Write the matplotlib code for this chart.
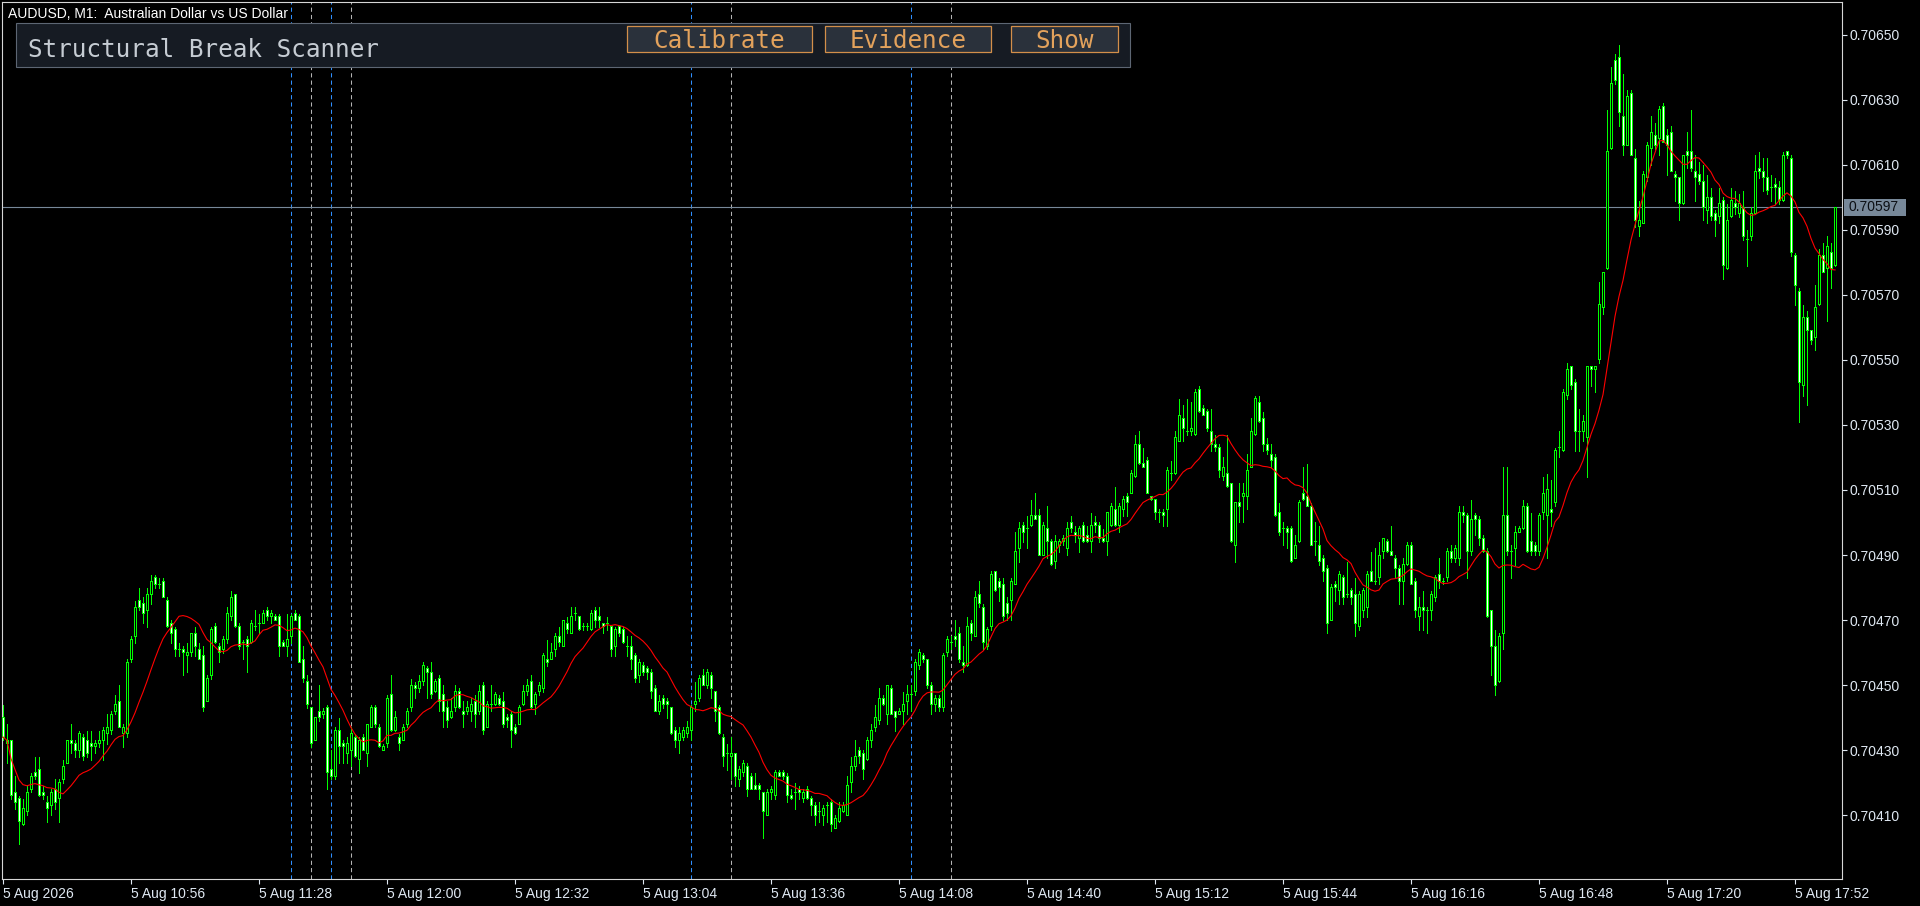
import numpy as np
import pandas as pd
import matplotlib
matplotlib.use('Agg')
import matplotlib.pyplot as plt
from matplotlib.patches import Rectangle

# AUDUSD M1 bars, prices in points above 0.70000
BASE = 0.70000

opens = [
    440, 433, 433, 417, 415, 407, 411, 418, 423, 424,
    417, 414, 413, 418, 415, 421, 426, 433, 432, 430,
    434, 433, 432, 431, 432, 433, 435, 436, 442, 445,
    435, 435, 458, 465, 476, 475, 473, 478, 483, 481,
    482, 476, 469, 467, 461, 461, 459, 460, 466, 461,
    459, 445, 453, 468, 462, 461, 464, 471, 478, 468,
    463, 464, 463, 468, 469, 469, 473, 471, 471, 471,
    463, 462, 465, 472, 471, 458, 451, 443, 433, 442,
    441, 443, 424, 422, 436, 432, 429, 430, 434, 427,
    434, 429, 437, 443, 437, 430, 432, 447, 436, 434,
    433, 438, 443, 450, 449, 451, 455, 454, 448, 452,
    447, 443, 440, 443, 448, 442, 442, 442, 445, 442,
    450, 437, 444, 444, 446, 445, 440, 441, 437, 438,
    444, 448, 451, 444, 448, 449, 458, 458, 461, 465,
    462, 469, 466, 472, 471, 468, 468, 467, 473, 471,
    469, 469, 468, 462, 468, 467, 462, 462, 459, 453,
    456, 455, 454, 449, 442, 446, 445, 443, 436, 433,
    434, 435, 436, 444, 446, 453, 450, 453, 448, 443,
    434, 429, 428, 429, 421, 423, 425, 422, 419, 419,
    417, 410, 417, 416, 423, 423, 422, 416, 417, 418,
    415, 418, 415, 413, 411, 410, 413, 414, 406, 408,
    411, 410, 420, 425, 430, 429, 427, 433, 437, 439,
    446, 441, 449, 442, 441, 442, 445, 447, 448, 456,
    459, 458, 450, 444, 446, 443, 460, 463, 465, 466,
    457, 456, 469, 465, 478, 474, 462, 468, 485, 482,
    481, 475, 476, 481, 492, 499, 498, 499, 502, 502,
    490, 498, 494, 488, 493, 494, 492, 500, 497, 495,
    499, 496, 494, 500, 499, 495, 494, 499, 504, 499,
    504, 508, 509, 514, 524, 518, 519, 508, 507, 503,
    503, 504, 515, 515, 525, 532, 528, 528, 527, 541,
    535, 534, 528, 524, 523, 514, 515, 512, 493, 506,
    508, 508, 517, 527, 537, 532, 524, 521, 520, 503,
    498, 498, 498, 489, 494, 509, 508, 505, 494, 493,
    489, 486, 470, 481, 479, 483, 478, 479, 478, 468,
    473, 474, 485, 482, 483, 491, 494, 491, 489, 486,
    482, 487, 493, 482, 471, 474, 473, 473, 477, 484,
    482, 483, 491, 489, 489, 503, 502, 491, 502, 501,
    495, 491, 473, 462, 451, 466, 502, 491, 492, 497,
    498, 505, 494, 493, 491, 503, 502, 504, 506, 523,
    522, 539, 548, 543, 528, 528, 526, 548, 547, 550,
    566, 578, 615, 642, 643, 625, 616, 632, 612, 591,
    592, 606, 615, 619, 618, 628, 619, 620, 607, 606,
    598, 614, 614, 608, 607, 605, 596, 600, 595, 594,
    599, 578, 594, 598, 595, 597, 587, 588, 595, 609,
    608, 606, 603, 604, 603, 599, 614, 612, 582, 571,
    542, 563, 559, 557, 567, 582, 578, 583, 579,
]

highs = [
    444, 438, 433, 422, 416, 415, 419, 423, 428, 428,
    419, 416, 418, 421, 421, 427, 433, 438, 433, 436,
    435, 436, 436, 433, 436, 437, 441, 442, 447, 450,
    438, 458, 465, 476, 480, 477, 480, 484, 484, 483,
    483, 477, 470, 468, 463, 462, 463, 466, 468, 463,
    462, 453, 468, 469, 463, 465, 474, 479, 478, 469,
    464, 465, 470, 473, 472, 473, 474, 473, 472, 472,
    464, 472, 472, 473, 472, 462, 453, 443, 440, 450,
    443, 444, 430, 437, 440, 433, 434, 437, 435, 434,
    435, 438, 444, 444, 438, 432, 447, 453, 442, 435,
    438, 443, 452, 451, 453, 457, 456, 457, 452, 453,
    450, 445, 446, 450, 449, 445, 445, 446, 447, 450,
    451, 445, 450, 448, 447, 448, 441, 442, 438, 444,
    450, 452, 453, 448, 451, 460, 464, 463, 466, 468,
    470, 471, 474, 474, 471, 469, 469, 473, 474, 474,
    469, 471, 468, 468, 468, 468, 465, 465, 460, 458,
    457, 456, 455, 450, 447, 447, 446, 443, 437, 437,
    437, 439, 444, 451, 453, 455, 455, 454, 448, 444,
    435, 432, 434, 429, 425, 427, 426, 423, 423, 420,
    417, 418, 419, 424, 424, 424, 423, 418, 420, 419,
    418, 419, 416, 414, 414, 413, 414, 415, 410, 414,
    414, 422, 428, 433, 431, 430, 434, 438, 444, 449,
    447, 450, 450, 442, 443, 448, 450, 450, 458, 461,
    460, 458, 451, 447, 447, 460, 465, 465, 470, 468,
    462, 471, 470, 479, 482, 475, 468, 485, 485, 483,
    483, 477, 483, 497, 500, 500, 502, 507, 509, 504,
    500, 505, 495, 496, 495, 496, 500, 502, 499, 499,
    500, 499, 503, 502, 500, 498, 503, 506, 511, 506,
    508, 509, 516, 527, 528, 523, 520, 508, 507, 504,
    504, 517, 519, 528, 538, 536, 538, 537, 541, 542,
    536, 535, 535, 527, 524, 520, 527, 512, 506, 512,
    512, 521, 532, 539, 539, 534, 526, 524, 521, 506,
    500, 499, 499, 496, 507, 517, 518, 506, 500, 499,
    490, 487, 481, 482, 485, 484, 488, 480, 483, 479,
    480, 485, 491, 492, 494, 495, 495, 499, 490, 487,
    489, 494, 494, 483, 477, 479, 474, 479, 484, 489,
    483, 492, 493, 493, 505, 505, 503, 507, 503, 502,
    496, 492, 473, 467, 466, 517, 517, 493, 499, 499,
    507, 506, 503, 494, 503, 514, 515, 513, 523, 528,
    541, 549, 548, 544, 535, 533, 548, 548, 548, 574,
    577, 627, 640, 644, 647, 638, 633, 633, 615, 599,
    608, 617, 625, 623, 628, 629, 621, 622, 608, 606,
    613, 620, 627, 613, 611, 610, 607, 603, 596, 603,
    600, 598, 603, 602, 601, 602, 590, 597, 613, 614,
    612, 612, 607, 606, 605, 614, 614, 613, 583, 572,
    567, 565, 559, 573, 584, 586, 588, 586, 597,
]

lows = [
    433, 426, 415, 412, 401, 407, 410, 417, 421, 416,
    415, 408, 410, 412, 408, 420, 426, 429, 428, 428,
    427, 428, 427, 429, 431, 427, 432, 435, 441, 437,
    431, 434, 457, 463, 473, 469, 468, 475, 480, 480,
    477, 468, 463, 459, 459, 453, 454, 459, 459, 458,
    442, 445, 452, 463, 457, 460, 463, 470, 468, 461,
    458, 454, 463, 467, 466, 469, 470, 469, 470, 459,
    462, 459, 463, 470, 457, 451, 443, 431, 433, 439,
    440, 418, 421, 421, 426, 426, 426, 425, 428, 423,
    430, 425, 437, 437, 431, 430, 431, 436, 436, 430,
    433, 437, 442, 446, 448, 450, 446, 446, 448, 442,
    437, 437, 440, 442, 443, 437, 441, 439, 437, 441,
    435, 437, 442, 444, 444, 437, 437, 431, 435, 438,
    444, 447, 443, 441, 447, 448, 456, 458, 459, 462,
    462, 466, 466, 470, 467, 467, 467, 467, 468, 468,
    466, 467, 459, 459, 465, 463, 459, 455, 451, 451,
    453, 452, 446, 442, 441, 443, 440, 435, 431, 429,
    433, 434, 433, 442, 445, 450, 449, 446, 439, 435,
    425, 424, 421, 419, 419, 422, 416, 418, 418, 415,
    403, 410, 415, 415, 422, 421, 414, 415, 412, 415,
    414, 415, 410, 407, 408, 407, 408, 405, 406, 408,
    411, 410, 417, 424, 426, 421, 427, 431, 436, 438,
    444, 438, 441, 436, 441, 438, 441, 442, 447, 455,
    457, 449, 441, 442, 442, 442, 459, 461, 462, 457,
    454, 456, 464, 465, 474, 461, 461, 467, 479, 476,
    470, 470, 470, 481, 488, 494, 492, 499, 501, 490,
    490, 489, 487, 486, 491, 493, 490, 497, 494, 491,
    494, 494, 491, 497, 494, 494, 490, 499, 499, 497,
    502, 502, 509, 514, 518, 517, 509, 507, 501, 500,
    499, 499, 513, 515, 525, 525, 527, 527, 527, 534,
    533, 528, 522, 522, 514, 513, 511, 494, 488, 500,
    500, 504, 517, 527, 531, 522, 521, 517, 502, 496,
    493, 492, 488, 489, 494, 507, 505, 493, 490, 487,
    482, 466, 470, 476, 475, 475, 477, 475, 465, 467,
    471, 471, 482, 481, 481, 489, 491, 490, 483, 475,
    475, 487, 481, 471, 467, 467, 466, 470, 476, 480,
    481, 482, 488, 488, 487, 500, 483, 490, 496, 493,
    491, 471, 453, 447, 451, 461, 490, 483, 487, 497,
    498, 491, 490, 490, 490, 501, 489, 499, 505, 520,
    522, 538, 541, 522, 522, 525, 514, 542, 540, 549,
    564, 578, 615, 635, 622, 613, 616, 613, 591, 588,
    592, 605, 610, 615, 613, 617, 607, 608, 599, 593,
    598, 609, 608, 599, 604, 593, 592, 593, 588, 592,
    575, 578, 594, 595, 594, 587, 579, 587, 595, 606,
    602, 601, 599, 598, 598, 599, 612, 582, 567, 531,
    539, 536, 555, 553, 567, 577, 562, 572, 579,
]

closes = [
    434, 432, 416, 414, 408, 412, 417, 422, 422, 416,
    416, 412, 417, 414, 420, 425, 433, 432, 430, 435,
    428, 429, 431, 432, 433, 436, 437, 441, 444, 437,
    437, 457, 464, 474, 474, 472, 478, 482, 481, 481,
    477, 468, 466, 461, 461, 460, 460, 466, 462, 458,
    443, 452, 467, 463, 460, 464, 472, 477, 468, 462,
    463, 462, 469, 468, 469, 472, 471, 472, 470, 462,
    462, 464, 471, 470, 457, 452, 444, 432, 440, 440,
    442, 423, 422, 436, 431, 431, 432, 435, 428, 433,
    430, 438, 443, 438, 431, 431, 446, 436, 440, 432,
    437, 442, 450, 449, 451, 456, 454, 447, 451, 445,
    442, 439, 442, 448, 443, 441, 443, 444, 441, 448,
    436, 444, 444, 447, 444, 438, 439, 436, 435, 443,
    448, 450, 443, 447, 450, 459, 457, 460, 465, 463,
    470, 467, 471, 472, 467, 468, 468, 472, 470, 470,
    468, 469, 461, 467, 466, 463, 462, 458, 452, 457,
    454, 454, 448, 442, 445, 444, 444, 435, 433, 435,
    436, 437, 443, 445, 452, 450, 454, 449, 442, 435,
    428, 429, 429, 422, 424, 426, 418, 418, 418, 418,
    411, 417, 418, 423, 422, 422, 416, 415, 417, 417,
    417, 415, 413, 410, 411, 412, 413, 407, 409, 412,
    413, 419, 425, 428, 428, 424, 433, 436, 440, 446,
    444, 450, 441, 440, 442, 444, 447, 447, 457, 460,
    458, 450, 444, 446, 443, 459, 464, 463, 464, 458,
    456, 468, 466, 477, 475, 463, 467, 484, 479, 480,
    471, 472, 482, 491, 498, 497, 498, 502, 501, 490,
    499, 494, 487, 494, 494, 495, 498, 498, 496, 498,
    494, 494, 499, 499, 495, 494, 503, 505, 499, 505,
    507, 506, 515, 524, 518, 517, 509, 507, 503, 503,
    502, 516, 515, 526, 533, 529, 528, 529, 540, 534,
    533, 529, 524, 523, 516, 517, 511, 494, 506, 505,
    509, 516, 528, 538, 531, 524, 522, 519, 502, 497,
    498, 497, 488, 493, 506, 507, 505, 493, 494, 488,
    485, 469, 480, 480, 484, 477, 478, 477, 469, 478,
    479, 484, 482, 482, 490, 495, 491, 490, 486, 482,
    487, 493, 481, 473, 474, 473, 473, 478, 483, 482,
    482, 491, 489, 492, 503, 502, 491, 501, 501, 495,
    491, 471, 462, 450, 465, 502, 491, 491, 497, 498,
    505, 491, 491, 491, 502, 509, 510, 503, 522, 523,
    540, 547, 542, 528, 528, 531, 548, 547, 548, 567,
    577, 614, 635, 636, 626, 616, 631, 613, 593, 593,
    607, 616, 620, 616, 627, 617, 616, 608, 606, 598,
    613, 613, 609, 606, 605, 597, 600, 594, 593, 598,
    579, 593, 599, 597, 598, 588, 587, 595, 608, 608,
    606, 602, 603, 603, 599, 613, 613, 583, 573, 543,
    563, 559, 556, 566, 582, 577, 585, 578, 597,
]

ma_period = 14

time_ticks = [0, 32, 64, 96, 128, 160, 192, 224, 256, 288, 320, 352, 384, 416, 448]
time_labels = ['5 Aug 2026', '5 Aug 10:56', '5 Aug 11:28', '5 Aug 12:00', '5 Aug 12:32',
               '5 Aug 13:04', '5 Aug 13:36', '5 Aug 14:08', '5 Aug 14:40', '5 Aug 15:12',
               '5 Aug 15:44', '5 Aug 16:16', '5 Aug 16:48', '5 Aug 17:20', '5 Aug 17:52']
price_ticks = [0.70410, 0.70430, 0.70450, 0.70470, 0.70490, 0.70510, 0.70530,
               0.70550, 0.70570, 0.70590, 0.70610, 0.70630, 0.70650]

break_lines_blue = [72, 82, 172, 227]
break_lines_gray = [77, 87, 182, 237]

buttons = ['Calibrate', 'Evidence', 'Show']

W, H = 1920, 906
LIME = '#00ff00'
AX_COL = '#dfe8f2'
FONT = ['Liberation Sans', 'DejaVu Sans']
MONO = ['DejaVu Sans Mono']

o = BASE + np.array(opens) / 1e5
h = BASE + np.array(highs) / 1e5
l = BASE + np.array(lows) / 1e5
c = BASE + np.array(closes) / 1e5
h = np.maximum(h, np.maximum(o, c))
l = np.minimum(l, np.minimum(o, c))
x = np.arange(len(c))
ma = pd.Series(c).rolling(ma_period, min_periods=1).mean()

fig = plt.figure(figsize=(W / 100, H / 100), dpi=100, facecolor='black')
ax = fig.add_axes([2 / W, (H - 879) / H, 1840 / W, 877 / H])
ax.set_facecolor('black')

ymin, ymax = 0.7039031, 0.7066015
ypx = (ymax - ymin) / 877      # one pixel in price units
xpx = 0.25                     # one pixel in bar units

# vertical break markers
for i in break_lines_blue:
    ax.axvline(i, color='#2f8fff', lw=0.75, ls=(0, (4, 3)), zorder=1)
for i in break_lines_gray:
    ax.axvline(i, color='#b4b4b4', lw=0.75, ls=(0, (4, 3)), zorder=1)

# candles: wick, green outer body, white/black inner fill
ax.vlines(x, l, h, colors=LIME, lw=0.72, zorder=2, antialiased=False)
top = np.maximum(o, c)
bot = np.minimum(o, c)
ax.bar(x, top - bot + ypx, bottom=bot - ypx / 2, width=3 * xpx, color=LIME,
       linewidth=0, zorder=3, antialiased=False)
inner = np.maximum(top - bot - ypx, 0)
face = np.where(c > o, 'black', 'white')
ax.bar(x, inner, bottom=bot + ypx / 2, width=1 * xpx, color=face,
       linewidth=0, zorder=4, antialiased=False)

ax.plot(x, ma, color='#ff0000', lw=0.8, zorder=5)

# bid line and label
last = c[-1]
ax.axhline(last, color='#778899', lw=0.8, zorder=1)
ax.add_patch(Rectangle((1.0011, last - 8.5 * ypx), 0.0337, 17 * ypx,
                       transform=ax.get_yaxis_transform(), clip_on=False,
                       facecolor='#778899', edgecolor='none', zorder=6))
ax.text(1.0035, last, f'{last:.5f}', transform=ax.get_yaxis_transform(),
        ha='left', va='center', color='#0c0f14', fontsize=10, family=FONT,
        clip_on=False, zorder=7)

ax.set_xlim(-0.25, 459.75)
ax.set_ylim(ymin, ymax)

ax.yaxis.tick_right()
ax.set_yticks(price_ticks)
ax.set_yticklabels([f'{v:.5f}' for v in price_ticks])
ax.set_xticks(time_ticks)
ax.set_xticklabels(time_labels, ha='left')
ax.tick_params(colors=AX_COL, labelcolor=AX_COL, length=3.6, width=0.8, labelsize=10)
ax.tick_params(axis='y', pad=1.5)
ax.tick_params(axis='x', pad=2.5)
for lab in ax.get_xticklabels() + ax.get_yticklabels():
    lab.set_family(FONT)
for sp in ax.spines.values():
    sp.set_color('#d6d6d6')
    sp.set_linewidth(0.8)


def fx(px):
    return px / W


def fy(py):
    return 1 - py / H


fig.text(fx(8), fy(18.5), 'AUDUSD, M1:  Australian Dollar vs US Dollar',
         color='white', fontsize=10, family=FONT, va='baseline')

# scanner panel
fig.add_artist(Rectangle((fx(16), fy(67)), fx(1130) - fx(16), fy(23) - fy(67),
                         transform=fig.transFigure, facecolor='#161b23',
                         edgecolor='#5d6673', lw=0.8, zorder=5))
fig.text(fx(28), fy(57), 'Structural Break Scanner', color='#c6ccd3',
         fontsize=17.5, family=MONO, va='baseline', zorder=6)

btn_x = [(627, 812), (825, 991), (1011, 1118)]
for name, (x0, x1) in zip(buttons, btn_x):
    fig.add_artist(Rectangle((fx(x0), fy(52)), fx(x1) - fx(x0), fy(26) - fy(52),
                             transform=fig.transFigure, facecolor='#2a313b',
                             edgecolor='#d38f4a', lw=0.9, zorder=6))
    fig.text(fx((x0 + x1) / 2), fy(48), name, color='#e3a25c', fontsize=17.5,
             family=MONO, ha='center', va='baseline', zorder=7)

fig.savefig('out.png', dpi=100, facecolor='black')
